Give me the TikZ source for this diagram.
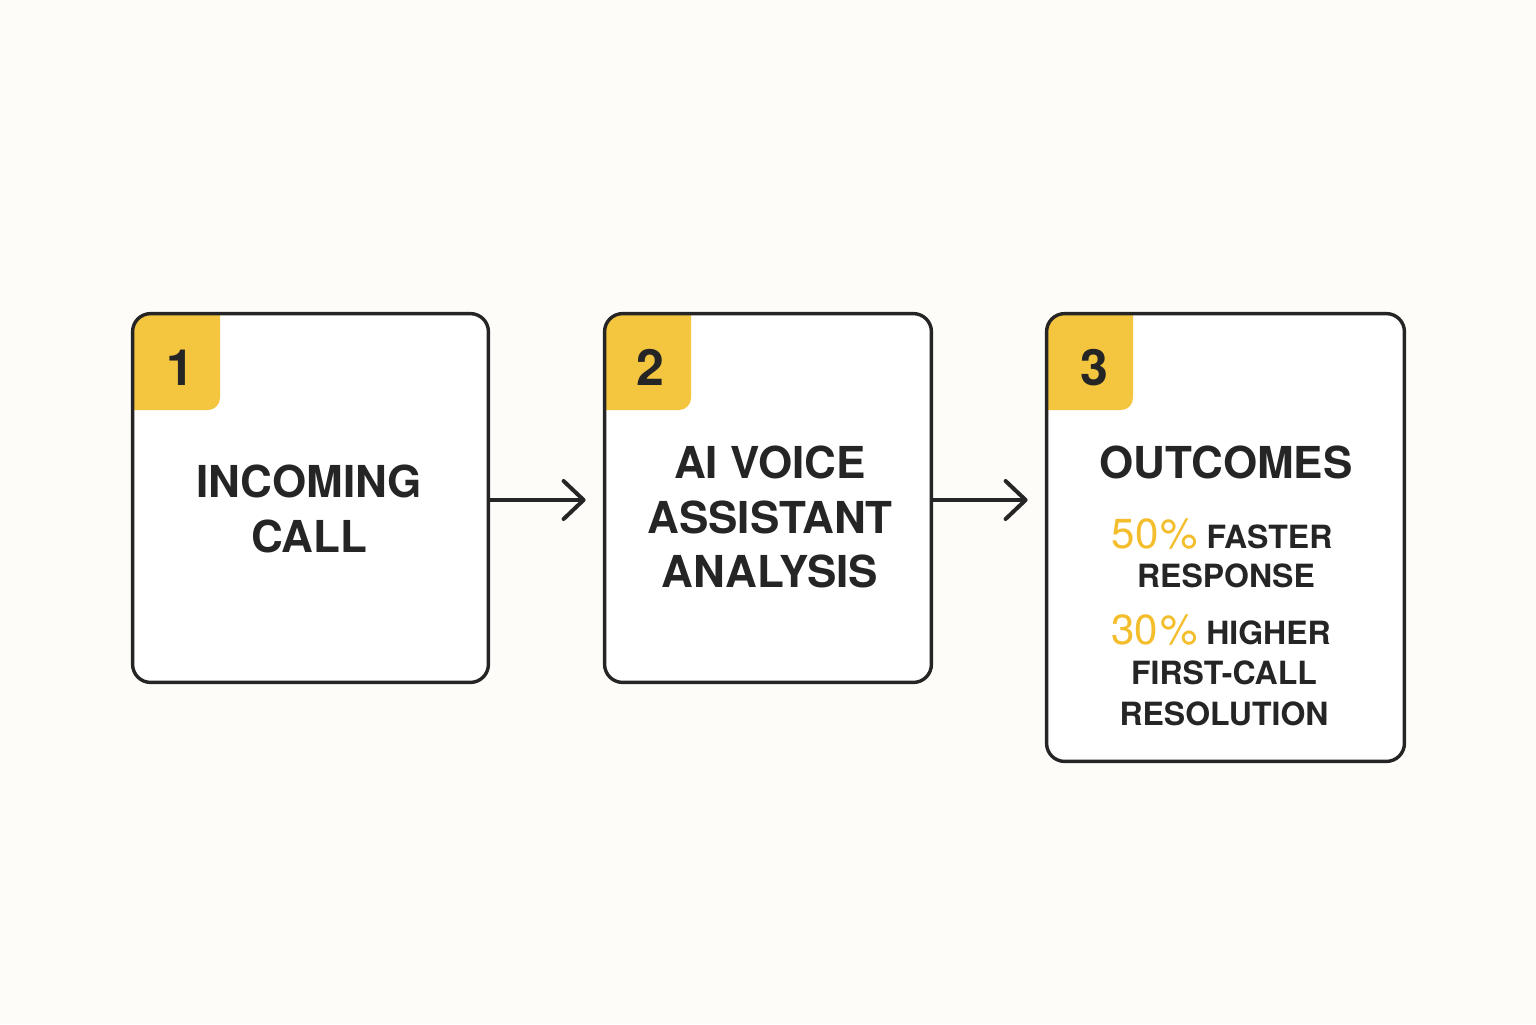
\documentclass[tikz,border=0pt]{standalone}
\usepackage{fontspec}
\setmainfont{TeX Gyre Heros}
\usetikzlibrary{arrows.meta,calc}
\definecolor{bg}{HTML}{FDFCF8}
\definecolor{ink}{HTML}{252525}
\definecolor{badgey}{HTML}{F4C53F}
\definecolor{pct}{HTML}{F4BD2B}
\newcommand\pctxt[1]{{\mdseries\fontsize{21}{24}\selectfont\color{pct}#1}}
\begin{document}
\begin{tikzpicture}[x=0.5pt,y=-0.5pt,
  card/.style={fill=white, draw=none, rounded corners=9pt, inner sep=0pt},
  border/.style={draw=ink, line width=1.7pt, rounded corners=9pt},
  badge/.style={fill=badgey, rounded corners=6pt},
  head/.style={font=\bfseries\fontsize{22}{26}\selectfont, text=ink, anchor=base, inner sep=0pt},
  small/.style={font=\bfseries\fontsize{16}{19}\selectfont, text=ink, anchor=base, inner sep=0pt},
  num/.style={font=\bfseries\fontsize{25}{30}\selectfont, text=ink, anchor=base, inner sep=0pt},
  flow/.style={draw=ink, line width=1.6pt, -{Straight Barb[length=10pt,width=19pt,line width=2pt,round]}, shorten >=9.5pt}
]
\fill[bg] (0,0) rectangle (1536,1024);
\useasboundingbox (0,0) rectangle (1536,1024);

% cards
\node[card, minimum width=177.5pt, minimum height=184pt] (b1) at (310.5,498) {};
\node[card, minimum width=163pt, minimum height=184pt] (b2) at (768,498) {};
\node[card, minimum width=178.5pt, minimum height=223.5pt] (b3) at (1225.5,537.5) {};

% badges
\foreach \b/\r in {b1/220, b2/691, b3/1133}{
  \begin{scope}
    \clip[rounded corners=9pt] (\b.north west) rectangle (\b.south east);
    \fill[badge] ($(\b.north west)+(-20,-20)$) rectangle (\r,410);
  \end{scope}
  \draw[border] (\b.north west) rectangle (\b.south east);
}

\node[num] (n1) at (180,385) {1};
\node[num] (n2) at (650,385) {2};
\node[num] (n3) at (1094,385) {3};

% texts
\node[head] (t1a) at (309,497) {INCOMING};
\node[head] (t1b) at (309,552) {CALL};
\node[head] (t2a) at (770,478) {AI VOICE};
\node[head] (t2b) at (770,533) {ASSISTANT};
\node[head] (t2c) at (770,587) {ANALYSIS};
\node[head] (t3a) at (1226,478) {OUTCOMES};
\node[small] (t3b) at (1222,548) {\pctxt{50\kern1pt\%} FASTER};
\node[small] (t3c) at (1226,587) {RESPONSE};
\node[small] (t3d) at (1221,644) {\pctxt{30\kern1pt\%} HIGHER};
\node[small] (t3e) at (1224,684) {FIRST-CALL};
\node[small] (t3f) at (1224,725) {RESOLUTION};

% connectors
\draw[flow] ([yshift=-1]b1.east) -- ([yshift=-1]b2.west);
\draw[flow] ([yshift=-1]b2.east) -- ([yshift=-1]b2.east -| b3.west);
\end{tikzpicture}
\end{document}
